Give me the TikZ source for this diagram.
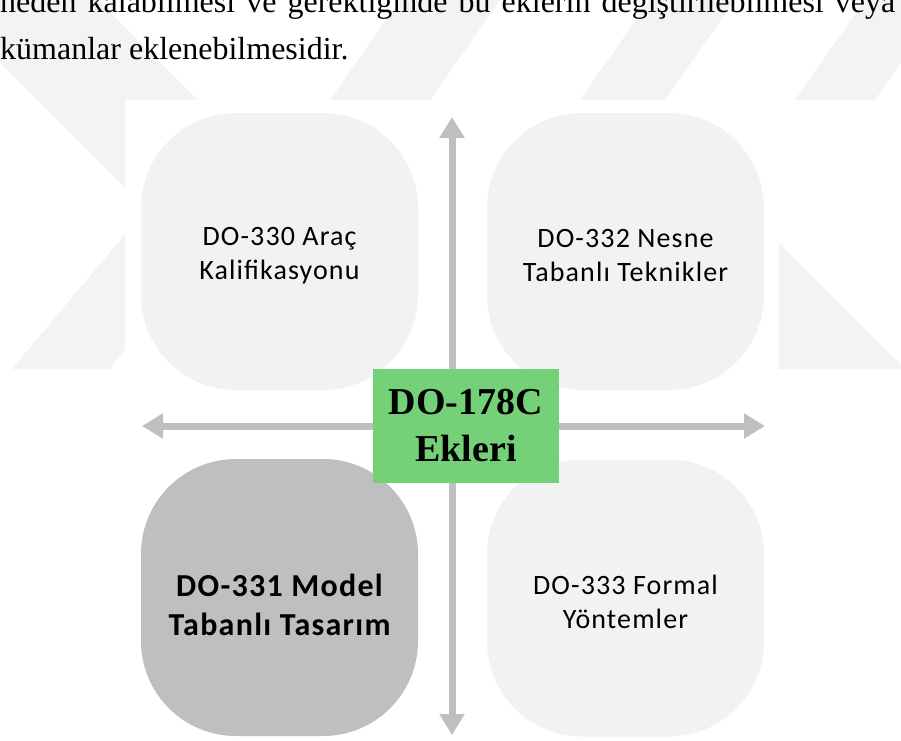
\documentclass[tikz,border=0pt]{standalone}
\usepackage{fontspec}
\setmainfont{Liberation Serif}
\newfontfamily\calibri{Carlito}[LetterSpace=4]
\usetikzlibrary{arrows.meta,backgrounds}

\definecolor{quadlight}{HTML}{F2F2F2}
\definecolor{quaddark}{HTML}{BFBFBF}
\definecolor{axisgray}{HTML}{BFBFBF}
\definecolor{hubgreen}{RGB}{117,209,119}
\definecolor{markgray}{HTML}{F3F3F3}

\begin{document}
\begin{tikzpicture}[x=1pt,y=-1pt,
  quad/.style={minimum width=277pt, minimum height=277pt, rounded corners=95pt,
    inner sep=0pt},
  quadtext/.style={align=center, text=black, inner sep=0pt, yshift=-4pt,
    font=\calibri\fontsize{28}{34}\selectfont},
  quadboldtext/.style={quadtext, yshift=-3pt,
    font=\calibri\bfseries\fontsize{32}{39}\selectfont},
  quadlightbox/.style={quad, fill=quadlight},
  quaddarkbox/.style={quad, fill=quaddark},
  hub/.style={fill=hubgreen, minimum width=186pt, minimum height=114pt,
    inner sep=0pt, align=center, font=\bfseries\fontsize{38}{47}\selectfont},
  axis/.style={draw=axisgray, line width=7pt,
    {Triangle[width=24pt,length=21pt]}-{Triangle[width=24pt,length=21pt]}},
  bodytext/.style={anchor=base west, inner sep=0pt, font=\fontsize{32}{32}\selectfont}]

\useasboundingbox (0,0) rectangle (901,740);
\clip (0,0) rectangle (901,740);

% faint page watermark
\fill[markgray] (-63,0) -- (98,0) -- (288,190) -- (127,190) -- cycle;
\fill[markgray] (12,369) -- (109,369) -- (260,189) -- (163,189) -- cycle;
\fill[markgray] (660,124) -- (905,369) -- (660,369) -- cycle;
\fill[markgray] (330,100) -- (430,100) -- (500,0) -- (400,0) -- cycle;
\fill[markgray] (580,100) -- (665,100) -- (735,0) -- (650,0) -- cycle;
\fill[markgray] (795,100) -- (875,100) -- (945,0) -- (865,0) -- cycle;

% white drawing canvas
\fill[white] (125,100) rectangle (779,740);

% paragraph lines above the figure
\node[bodytext] (line1) at (0,12)
  {\makebox[895pt][s]{neden kalabilmesi ve gerektiğinde bu eklerin değiştirilebilmesi veya}};
\node[bodytext] (line2) at (0,59) {kümanlar eklenebilmesidir.};

% four quadrants, each with its square corner towards the centre
\node[quadlightbox, label={[quadtext]center:DO-330 Araç\\Kalifikasyonu}] (tl) at (279.5,251.5) {};
\node[quadlightbox, label={[quadtext]center:DO-332 Nesne\\Tabanlı Teknikler}] (tr) at (625.5,251.5) {};
\node[quaddarkbox, label={[quadboldtext]center:DO-331 Model\\Tabanlı Tasarım}] (bl) at (279.5,597.5) {};
\node[quadlightbox, label={[quadtext]center:DO-333 Formal\\Yöntemler}] (br) at (625.5,598) {};

\begin{scope}[on background layer]
  \fill[quadlight] (tl.center) rectangle (tl.south east);
  \fill[quadlight] (tr.center) rectangle (tr.south west);
  \fill[quaddark]  (bl.center) rectangle (bl.north east);
  \fill[quadlight] (br.center) rectangle (br.north west);
\end{scope}

% axes
\coordinate (up)    at (452,117);
\coordinate (down)  at (452,735);
\coordinate (left)  at (142,426);
\coordinate (right) at (765,426);
\draw[axis] (down) -- (up);
\draw[axis] (left) -- (right);

% central hub
\node[hub] (hub) at (466,426) {DO-178C\\Ekleri};
\end{tikzpicture}
\end{document}
